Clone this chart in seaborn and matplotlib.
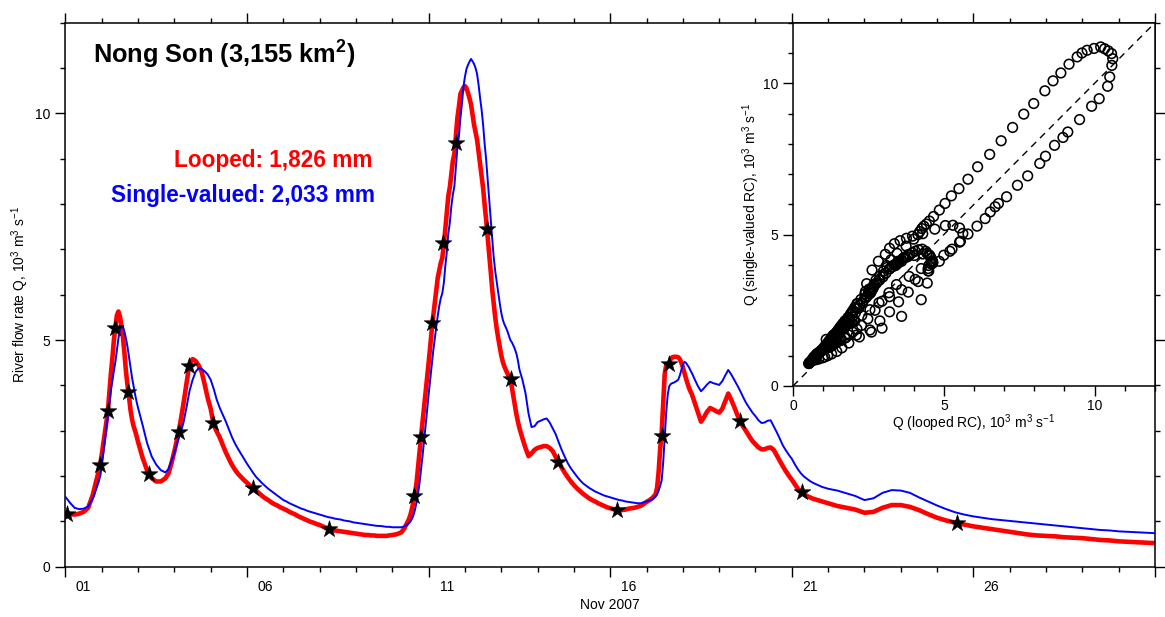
import matplotlib
matplotlib.use("Agg")
import matplotlib.pyplot as plt
from matplotlib.ticker import MultipleLocator
import numpy as np
import pandas as pd
import seaborn as sns

# ---------------------------------------------------------------------------
# Nong Son gauge, November 2007: discharge from the looped and the
# single-valued rating curves (10^3 m^3 s^-1).
# Sample times are hours after 1 Nov 2007 00:00 (hourly during the floods,
# two-hourly on the recessions, six-hourly at the end of the month).
# ---------------------------------------------------------------------------
hours = (list(range(0, 19, 3)) + list(range(19, 49)) + list(range(51, 67, 3))
         + list(range(68, 93, 2)) + list(range(94, 225, 2)) + list(range(226, 301))
         + list(range(302, 391, 2)) + list(range(391, 415)) + list(range(416, 505, 2))
         + list(range(510, 721, 6)))

q_looped = [
    # 1-2 Nov
    1.10, 1.16, 1.15, 1.17, 1.21, 1.30, 1.58,
    1.72, 1.85, 1.98, 2.12, 2.27, 2.48, 2.72, 2.95, 3.18, 3.43, 3.85, 4.25, 4.60, 5.00,
    5.27, 5.55, 5.63, 5.52, 5.30, 5.05, 4.70, 4.30, 4.00, 3.75, 3.45, 3.25, 3.10, 3.00,
    2.88, 2.75,
    2.40, 2.12, 1.95, 1.88, 1.88, 1.95,
    # 3-4 Nov
    2.05, 2.28, 2.55, 2.85, 3.20, 3.60, 4.05, 4.48, 4.58, 4.54, 4.44, 4.30, 4.02,
    # recession, 4-10 Nov
    3.72, 3.48, 3.12, 2.98, 2.85, 2.68, 2.52, 2.38, 2.25, 2.14, 2.05, 1.98, 1.91, 1.85,
    1.79, 1.73, 1.68, 1.62, 1.56, 1.51, 1.47, 1.42, 1.38, 1.35, 1.31, 1.28, 1.25, 1.21,
    1.18, 1.15, 1.11, 1.08, 1.05, 1.02, 0.99, 0.97, 0.94, 0.92, 0.89, 0.86, 0.84, 0.82,
    0.80, 0.79, 0.78, 0.77, 0.76, 0.75, 0.74, 0.73, 0.72, 0.71, 0.70, 0.70, 0.69, 0.69,
    0.68, 0.68, 0.68, 0.68, 0.69, 0.70, 0.71, 0.73, 0.76, 0.85,
    # main flood, 10-13 Nov
    0.98, 1.05, 1.15, 1.28, 1.45, 1.62, 1.85, 2.20, 2.55, 2.88, 3.20, 3.50, 3.82, 4.15,
    4.50, 4.85, 5.20, 5.52, 5.80, 6.10, 6.37, 6.54, 6.70, 6.81, 7.08, 7.44, 7.78, 8.18,
    8.37, 8.67, 8.95, 9.11, 9.50, 9.90, 10.15, 10.43, 10.50, 10.57, 10.60, 10.56, 10.45,
    10.33, 10.20, 9.98, 9.75, 9.58, 9.42, 9.15, 8.88, 8.62, 8.35, 7.98, 7.65, 7.28, 6.90,
    6.52, 6.12, 5.80, 5.50, 5.25, 5.04, 4.85, 4.66, 4.52, 4.42, 4.34, 4.27, 4.20, 4.14,
    3.96, 3.76, 3.55, 3.36, 3.20, 3.06,
    # recession, 13-17 Nov
    2.83, 2.62, 2.44, 2.50, 2.58, 2.62, 2.64, 2.66, 2.66, 2.62, 2.55, 2.42, 2.30, 2.18,
    2.07, 1.97, 1.88, 1.80, 1.73, 1.67, 1.61, 1.56, 1.51, 1.47, 1.44, 1.40, 1.37, 1.34,
    1.31, 1.29, 1.27, 1.26, 1.25, 1.25, 1.26, 1.28, 1.29, 1.30, 1.32, 1.34, 1.38, 1.43,
    1.47, 1.52, 1.60,
    # 17-18 Nov
    1.75, 2.10, 2.60, 2.95, 3.60, 4.25, 4.45, 4.48, 4.50, 4.58, 4.62, 4.63, 4.63, 4.63,
    4.62, 4.58, 4.50, 4.40, 4.28, 4.16, 4.05, 3.95, 3.87, 3.80,
    # 18-22 Nov
    3.60, 3.40, 3.20, 3.30, 3.42, 3.50, 3.47, 3.43, 3.40, 3.48, 3.65, 3.82, 3.68, 3.52,
    3.35, 3.20, 3.08, 2.98, 2.87, 2.77, 2.70, 2.63, 2.59, 2.59, 2.62, 2.63, 2.58, 2.46,
    2.34, 2.22, 2.11, 2.01, 1.92, 1.82, 1.72, 1.65, 1.60, 1.56, 1.53, 1.50, 1.48, 1.46,
    1.44, 1.42, 1.40,
    # 22 Nov - 1 Dec
    1.34, 1.30, 1.26, 1.19, 1.21, 1.30, 1.36, 1.36, 1.32, 1.25, 1.16, 1.08, 1.02, 0.97,
    0.93, 0.89, 0.86, 0.83, 0.80, 0.77, 0.74, 0.71, 0.69, 0.68, 0.67, 0.65, 0.64, 0.63,
    0.61, 0.59, 0.58, 0.56, 0.55, 0.54, 0.53, 0.52,
]

q_single = [
    # 1-2 Nov
    1.54, 1.41, 1.30, 1.27, 1.28, 1.33, 1.50,
    1.58, 1.68, 1.78, 1.88, 2.00, 2.22, 2.50, 2.80, 3.08, 3.35, 3.62, 3.88, 4.10, 4.32,
    4.52, 4.78, 5.04, 5.22, 5.31, 5.30, 5.18, 5.03, 4.85, 4.62, 4.38, 4.17, 3.98, 3.80,
    3.64, 3.50,
    3.12, 2.72, 2.43, 2.25, 2.13, 2.08,
    # 3-4 Nov
    2.15, 2.33, 2.52, 2.75, 2.95, 3.18, 3.52, 3.88, 4.12, 4.30, 4.38, 4.36, 4.31,
    # recession, 4-10 Nov
    4.24, 4.12, 3.92, 3.68, 3.50, 3.35, 3.20, 3.03, 2.86, 2.72, 2.60, 2.49, 2.38, 2.27,
    2.17, 2.07, 1.98, 1.91, 1.84, 1.78, 1.72, 1.67, 1.62, 1.57, 1.52, 1.47, 1.44, 1.40,
    1.37, 1.34, 1.31, 1.28, 1.26, 1.23, 1.21, 1.19, 1.17, 1.15, 1.13, 1.11, 1.09, 1.08,
    1.06, 1.05, 1.04, 1.02, 1.01, 1.00, 0.98, 0.97, 0.96, 0.95, 0.94, 0.93, 0.92, 0.91,
    0.90, 0.90, 0.89, 0.88, 0.88, 0.87, 0.87, 0.87, 0.87, 0.89,
    # main flood, 10-13 Nov
    0.93, 0.96, 1.00, 1.06, 1.14, 1.26, 1.42, 1.62, 1.85, 2.15, 2.45, 2.78, 3.10, 3.45,
    3.80, 4.12, 4.45, 4.75, 5.02, 5.28, 5.53, 5.75, 5.92, 6.03, 6.25, 6.63, 6.94, 7.35,
    7.59, 7.95, 8.21, 8.39, 8.80, 9.24, 9.49, 9.90, 10.21, 10.59, 10.81, 10.98, 11.07,
    11.14, 11.20, 11.15, 11.09, 11.00, 10.87, 10.63, 10.34, 10.08, 9.75, 9.33, 8.98, 8.54,
    8.10, 7.65, 7.24, 6.83, 6.52, 6.28, 6.03, 5.81, 5.60, 5.45, 5.35, 5.28, 5.20, 5.10,
    5.00, 4.95, 4.88, 4.80, 4.70, 4.55, 4.35,
    # recession, 13-17 Nov
    4.12, 3.83, 3.38, 3.08, 3.10, 3.19, 3.22, 3.25, 3.27, 3.18, 3.05, 2.92, 2.74, 2.57,
    2.42, 2.28, 2.17, 2.08, 1.99, 1.91, 1.84, 1.79, 1.74, 1.70, 1.66, 1.63, 1.60, 1.57,
    1.55, 1.53, 1.51, 1.49, 1.47, 1.46, 1.44, 1.43, 1.42, 1.41, 1.40, 1.40, 1.42, 1.44,
    1.46, 1.49, 1.55,
    # 17-18 Nov
    1.60, 1.68, 1.78, 1.91, 2.30, 2.85, 3.40, 3.80, 3.98, 4.03, 4.05, 4.06, 4.08, 4.10,
    4.13, 4.22, 4.34, 4.45, 4.52, 4.50, 4.45, 4.40, 4.33, 4.27,
    # 18-22 Nov
    4.12, 3.98, 3.87, 3.94, 4.02, 4.08, 4.05, 4.03, 4.01, 4.09, 4.22, 4.34, 4.24, 4.12,
    4.00, 3.87, 3.73, 3.60, 3.50, 3.40, 3.32, 3.23, 3.17, 3.18, 3.22, 3.23, 3.10, 2.97,
    2.83, 2.68, 2.57, 2.47, 2.38, 2.26, 2.15, 2.06, 1.99, 1.94, 1.89, 1.85, 1.82, 1.79,
    1.76, 1.74, 1.72,
    # 22 Nov - 1 Dec
    1.68, 1.62, 1.56, 1.47, 1.51, 1.63, 1.69, 1.68, 1.63, 1.53, 1.44, 1.35, 1.27, 1.20,
    1.15, 1.11, 1.08, 1.05, 1.03, 1.01, 0.99, 0.97, 0.95, 0.93, 0.91, 0.89, 0.87, 0.85,
    0.83, 0.81, 0.80, 0.78, 0.77, 0.76, 0.75, 0.74,
]

# gauged discharges (days after 1 Nov 00:00)
gauged_day = [0.04, 0.95, 1.17, 1.36, 1.72, 2.29, 3.12, 3.39, 4.05, 5.15, 7.27, 9.60,
              9.79, 10.10, 10.40, 10.76, 11.61, 12.26, 13.57, 15.18, 16.42, 16.61,
              18.58, 20.27, 24.56]
gauged_q = [1.16, 2.24, 3.43, 5.26, 3.85, 2.04, 2.97, 4.43, 3.17, 1.74, 0.83, 1.56,
            2.86, 5.37, 7.14, 9.34, 7.44, 4.14, 2.32, 1.25, 2.88, 4.47, 3.21, 1.65, 0.97]

day_ticks = [0, 5, 10, 15, 20, 25]
day_labels = ["01", "06", "11", "16", "21", "26"]

station_label = r"Nong Son (3,155 km$^{\mathbf{2}}$)"
looped_total = "Looped: 1,826 mm"
single_total = "Single-valued: 2,033 mm"

assert len(hours) == len(q_looped) == len(q_single)

flow = pd.DataFrame({"day": np.asarray(hours) / 24.0,
                     "looped": q_looped, "single": q_single})
gauged = pd.DataFrame({"day": gauged_day, "q": gauged_q})

sns.set_theme(style="ticks", rc={
    "axes.edgecolor": "black", "axes.labelcolor": "black", "text.color": "black",
    "xtick.color": "black", "ytick.color": "black", "axes.linewidth": 1.1,
})
plt.rcParams["font.family"] = ["Liberation Sans", "DejaVu Sans"]
plt.rcParams["mathtext.fontset"] = "custom"
plt.rcParams["mathtext.rm"] = "Liberation Sans"
plt.rcParams["mathtext.it"] = "Liberation Sans:italic"
plt.rcParams["mathtext.bf"] = "Liberation Sans:bold"

RED = "#ff0000"
BLUE = "#0000ff"

fig = plt.figure(figsize=(11.65, 6.17), dpi=100)
ax = fig.add_axes([0.0562, 0.0815, 0.9352, 0.8817])

sns.lineplot(data=flow, x="day", y="looped", ax=ax, color=RED, linewidth=3.3,
             zorder=2, legend=False)
sns.lineplot(data=flow, x="day", y="single", ax=ax, color=BLUE, linewidth=1.4,
             zorder=3, legend=False)
sns.scatterplot(data=gauged, x="day", y="q", ax=ax, marker="*", s=160,
                color="black", edgecolor="black", linewidth=0.4, zorder=4, legend=False)

ax.set_xlim(0, 30)
ax.set_ylim(0, 12)
ax.xaxis.set_major_locator(MultipleLocator(5))
ax.xaxis.set_minor_locator(MultipleLocator(1))
ax.yaxis.set_major_locator(MultipleLocator(5))
ax.yaxis.set_minor_locator(MultipleLocator(1))
ax.tick_params(which="both", direction="out", top=True, right=True, width=1.0)
ax.tick_params(which="major", length=7.2)
ax.tick_params(which="minor", length=3.6)
ax.tick_params(axis="x", labelbottom=False)
ax.tick_params(axis="y", labelsize=10, pad=3.5)
ax.set_xlabel("")
ax.set_ylabel(r"River flow rate Q, 10$^3$ m$^3$ s$^{-1}$", fontsize=10, labelpad=3)
for spine in ax.spines.values():
    spine.set_visible(True)
    spine.set_linewidth(1.1)

# day-of-month labels sit in the middle of each day
for d, lab in zip(day_ticks, day_labels):
    ax.annotate(lab, xy=(d + 0.5, 0), xycoords=("data", "axes fraction"),
                xytext=(0, -14.5), textcoords="offset points",
                ha="center", va="center", fontsize=10)
ax.text(0.5, -0.0704, "Nov 2007", transform=ax.transAxes, ha="center", va="center",
        fontsize=10)

ax.text(0.0252, 0.924, station_label, transform=ax.transAxes, ha="left",
        va="baseline", fontsize=18.3, fontweight="bold")
ax.text(0.282, 0.735, looped_total, transform=ax.transAxes, ha="right",
        va="baseline", fontsize=16.3, fontweight="bold", color=RED)
ax.text(0.284, 0.671, single_total, transform=ax.transAxes, ha="right",
        va="baseline", fontsize=16.3, fontweight="bold", color=BLUE)

# inset: single-valued against looped discharge
axin = fig.add_axes([0.6807, 0.3744, 0.3107, 0.5888])
axin.set_facecolor("white")
axin.axline((0, 0), slope=1, color="black", linewidth=1.0, linestyle=(0, (5, 4)),
            zorder=1)
sns.scatterplot(data=flow, x="looped", y="single", ax=axin, marker="o", s=48,
                facecolor="none", edgecolor="black", linewidth=1.15, zorder=2,
                legend=False)
axin.set_xlim(0, 12)
axin.set_ylim(0, 12)
for a in (axin.xaxis, axin.yaxis):
    a.set_major_locator(MultipleLocator(5))
    a.set_minor_locator(MultipleLocator(1))
axin.tick_params(which="both", direction="out", top=False, right=False, width=1.0)
axin.tick_params(which="major", length=7.2)
axin.tick_params(which="minor", length=3.6)
axin.tick_params(axis="x", labelsize=10, pad=2)
axin.tick_params(axis="y", labelsize=10, pad=3.5)
axin.set_xlabel(r"Q (looped RC), 10$^3$ m$^3$ s$^{-1}$", fontsize=10, labelpad=-0.5)
axin.set_ylabel(r"Q (single-valued RC), 10$^3$ m$^3$ s$^{-1}$", fontsize=10,
                labelpad=0.5)
for spine in axin.spines.values():
    spine.set_visible(True)
    spine.set_linewidth(1.1)

fig.savefig("out.png", dpi=100, facecolor="white")
